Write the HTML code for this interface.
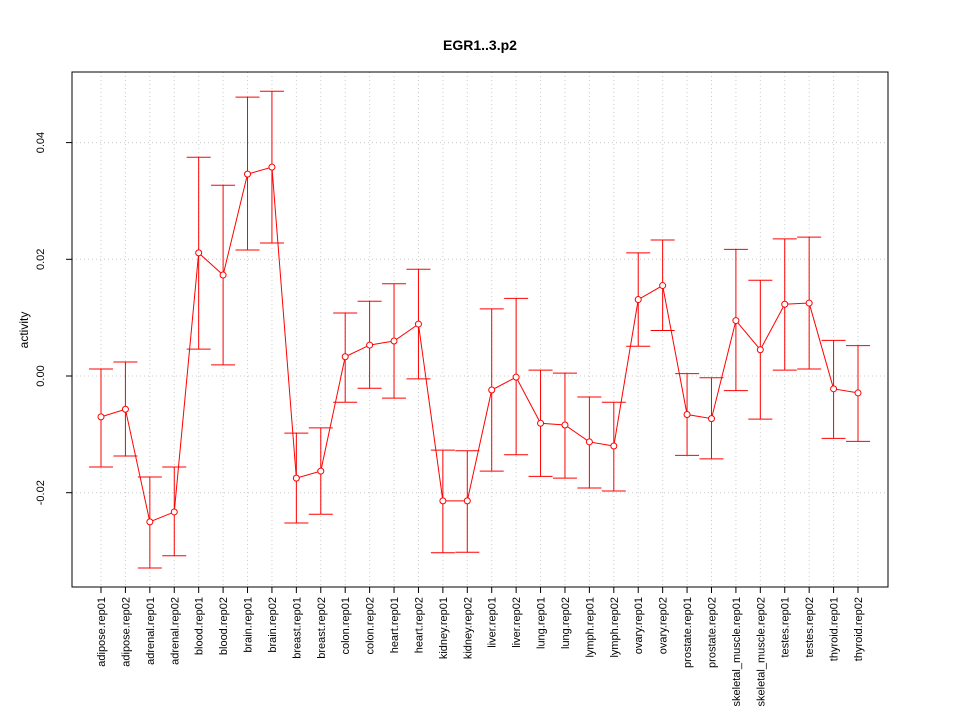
<!DOCTYPE html>
<html><head><meta charset="utf-8"><style>
body{margin:0;background:#fff}
text{font-family:"Liberation Sans",sans-serif;fill:#000}
</style></head><body>
<svg id="c" width="960" height="720" xmlns="http://www.w3.org/2000/svg">
<rect width="960" height="720" fill="#fff"/>
<text x="480" y="50" text-anchor="middle" font-size="14" font-weight="bold">EGR1..3.p2</text>
<text transform="translate(28,330) rotate(-90)" text-anchor="middle" font-size="12">activity</text>
<g id="grid"></g><g id="axes"></g><g id="marks"></g>
<rect x="72" y="72" width="816" height="515" fill="none" stroke="#000"/>
</svg>
<script>
const categories=["adipose.rep01","adipose.rep02","adrenal.rep01","adrenal.rep02","blood.rep01","blood.rep02","brain.rep01","brain.rep02","breast.rep01","breast.rep02","colon.rep01","colon.rep02","heart.rep01","heart.rep02","kidney.rep01","kidney.rep02","liver.rep01","liver.rep02","lung.rep01","lung.rep02","lymph.rep01","lymph.rep02","ovary.rep01","ovary.rep02","prostate.rep01","prostate.rep02","skeletal_muscle.rep01","skeletal_muscle.rep02","testes.rep01","testes.rep02","thyroid.rep01","thyroid.rep02"];
const values=[-0.0070,-0.0057,-0.0250,-0.0233,0.0211,0.0173,0.0346,0.0358,-0.0175,-0.0163,0.0033,0.0053,0.0060,0.0089,-0.0214,-0.0214,-0.0024,-0.0002,-0.0081,-0.0084,-0.0113,-0.0120,0.0131,0.0155,-0.0066,-0.0073,0.0095,0.0045,0.0123,0.0125,-0.0022,-0.0029];
const upper=[0.0012,0.0024,-0.0173,-0.0156,0.0375,0.0327,0.0478,0.0488,-0.0098,-0.0089,0.0108,0.0128,0.0158,0.0183,-0.0127,-0.0128,0.0115,0.0133,0.0010,0.0005,-0.0036,-0.0045,0.0211,0.0233,0.0004,-0.0003,0.0217,0.0164,0.0235,0.0238,0.0061,0.0052];
const lower=[-0.0156,-0.0137,-0.0329,-0.0308,0.0046,0.0019,0.0216,0.0228,-0.0252,-0.0237,-0.0045,-0.0021,-0.0038,-0.0005,-0.0303,-0.0302,-0.0163,-0.0135,-0.0172,-0.0175,-0.0192,-0.0197,0.0051,0.0078,-0.0136,-0.0142,-0.0025,-0.0074,0.0010,0.0012,-0.0107,-0.0112];
const yTicks=[-0.02,0.00,0.02,0.04];
const yTickLabels=["-0.02","0.00","0.02","0.04"];
const NS="http://www.w3.org/2000/svg";
const x0=101,x1=858;
function xs(i){return x0+i*(x1-x0)/(categories.length-1);}
function ys(v){return 376-v*5835;}
function mk(tag,attrs,parent){const e=document.createElementNS(NS,tag);for(const k in attrs)e.setAttribute(k,attrs[k]);document.getElementById(parent).appendChild(e);return e;}
yTicks.forEach((t,i)=>{
 const g=mk('line',{x1:72,x2:888,y1:ys(t),y2:ys(t),stroke:'#ccc','stroke-dasharray':'1,3'},'grid');
 
 
 const tk=mk('line',{x1:66,x2:72,y1:ys(t),y2:ys(t),stroke:'#000'},'axes');
 
 
 const l=mk('text',{transform:`translate(44,${ys(t)}) rotate(-90)`,'text-anchor':'middle','font-size':11},'axes');
 l.textContent=yTickLabels[i];
 
 
});
categories.forEach((c,i)=>{
 const x=xs(i);
 const g=mk('line',{x1:x,x2:x,y1:72,y2:587,stroke:'#ccc','stroke-dasharray':'1,3'},'grid');
 
 
 const tk=mk('line',{x1:x,x2:x,y1:587,y2:593,stroke:'#000'},'axes');
 
 
 const l=mk('text',{transform:`translate(${x+4},597) rotate(-90)`,'text-anchor':'end','font-size':11},'axes');
 l.textContent=c;
 
 
});
const pts=values.map((v,i)=>xs(i)+','+ys(v)).join(' ');
const pl=mk('polyline',{points:pts,fill:'none',stroke:'#f00','stroke-width':1},'marks');


values.forEach((v,i)=>{
 const x=xs(i);
 const e=mk('path',{d:`M${x},${ys(upper[i])}V${ys(lower[i])}M${x-12},${ys(upper[i])}H${x+12}M${x-12},${ys(lower[i])}H${x+12}`,stroke:'#f00',fill:'none'},'marks');
 
 
 const p=mk('circle',{cx:x,cy:ys(v),r:3,fill:'#fff',stroke:'#f00'},'marks');
 
 
});
</script>
</body></html>
